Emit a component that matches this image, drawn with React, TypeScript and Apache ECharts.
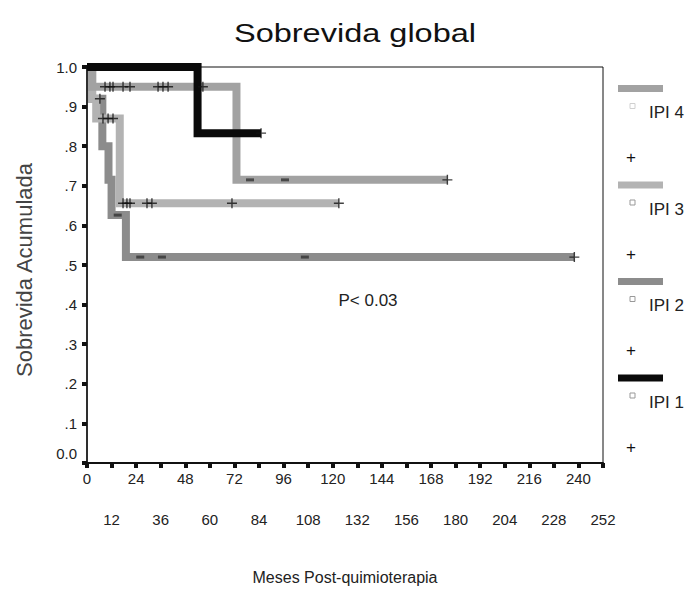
import React, { useEffect, useRef } from "react";
import * as echarts from "echarts";

// ---- data ----
const seriesNames = ["IPI 4", "IPI 3", "IPI 2", "IPI 1"];
const seriesColors = ["#a2a2a2", "#b3b3b3", "#8c8c8c", "#0a0a0a"];

// Kaplan-Meier steps: [month of event, survival after event]
const ipi4Steps = [[0, 1], [2.5, 0.95], [73, 0.715], [176, 0.715]];
const ipi3Steps = [[0, 1], [2.5, 0.92], [4.5, 0.87], [16, 0.656], [123, 0.656]];
const ipi2Steps = [[0, 1], [2.5, 0.92], [7.5, 0.8], [10.5, 0.715], [12, 0.626], [19, 0.52], [238, 0.52]];
const ipi1Steps = [[0, 1], [54, 0.833], [85, 0.833]];

// censored observations ("+" marks and dash marks)
const ipi4Plus = [[8.8, 0.95], [11.2, 0.95], [12.7, 0.95], [17.6, 0.95], [21, 0.95], [34.7, 0.95], [37.1, 0.95], [39.6, 0.95], [56.6, 0.95], [176, 0.715]];
const ipi4Dash = [[79.6, 0.715], [96.7, 0.715]];
const ipi3Plus = [[7.8, 0.87], [10.3, 0.87], [12.7, 0.87], [17.6, 0.656], [19.5, 0.656], [21, 0.656], [29.3, 0.656], [31.7, 0.656], [70.8, 0.656], [123, 0.656]];
const ipi2Plus = [[6.3, 0.92], [238, 0.52]];
const ipi2Dash = [[15, 0.626], [26, 0.52], [36.6, 0.52], [106.4, 0.52]];
const ipi1Plus = [[85, 0.833]];

const xMin = 0;
const xMax = 252;
const xStep = 12;
const yMin = 0;
const yMax = 1;
const yStep = 0.1;

const titleText = "Sobrevida global";
const yTitle = "Sobrevida Acumulada";
const xTitle = "Meses Post-quimioterapia";
const pText = "P< 0.03";

const FONT = "'Liberation Sans', Arial, Helvetica, sans-serif";
const PLUS = "path://M5,0L5,10M0,5L10,5";

export default function App() {
  const ref = useRef<HTMLDivElement>(null);

  useEffect(() => {
    if (!ref.current) return;
    const chart = echarts.init(ref.current, undefined, { renderer: "svg" });

    const steps = [ipi4Steps, ipi3Steps, ipi2Steps, ipi1Steps];
    const drawOrder = [2, 1, 0, 3];

    const lineSeries = drawOrder.map((i) => ({
      type: "line",
      name: seriesNames[i],
      data: steps[i],
      step: "end",
      symbol: "none",
      silent: true,
      lineStyle: { color: seriesColors[i], width: 8, cap: "butt", join: "miter" },
      z: 2,
    }));

    const plusSeries = [ipi4Plus, ipi3Plus, ipi2Plus, ipi1Plus].map((d) => ({
      type: "scatter",
      data: d,
      symbol: PLUS,
      symbolSize: 10,
      silent: true,
      itemStyle: { color: "rgba(0,0,0,0)", borderColor: "#111", borderWidth: 1.4 },
      z: 5,
    }));

    const dashSeries = [ipi4Dash, ipi2Dash].map((d) => ({
      type: "scatter",
      data: d,
      symbol: "rect",
      symbolSize: [8, 3],
      silent: true,
      itemStyle: { color: "#333" },
      z: 5,
    }));

    // legend drawn as graphics, laid out like the original SPSS legend
    const legendGraphics: any[] = [];
    seriesNames.forEach((name, i) => {
      const y0 = 88.5 + i * 96.5;
      legendGraphics.push({
        type: "rect",
        shape: { x: 618, y: y0 - 3.5, width: 45, height: 7 },
        style: { fill: seriesColors[i] },
      });
      legendGraphics.push({
        type: "rect",
        shape: { x: 630, y: y0 + 15, width: 5, height: 5 },
        style: { fill: "none", stroke: i === 0 ? "#d0d0d0" : "#999", lineWidth: 1 },
      });
      legendGraphics.push({
        type: "text",
        x: 649,
        y: y0 + 24,
        style: { text: name, font: `17px ${FONT}`, fill: "#222", textVerticalAlign: "middle", textAlign: "left" },
      });
      legendGraphics.push({
        type: "text",
        x: 631,
        y: y0 + 69,
        style: { text: "+", font: `17px ${FONT}`, fill: "#111", textVerticalAlign: "middle", textAlign: "center" },
      });
    });

    const gridBox = { left: 87, top: 67, width: 516, height: 396 };

    const option: any = {
      animation: false,
      backgroundColor: "#ffffff",
      textStyle: { fontFamily: FONT },
      grid: [
        { ...gridBox, show: true, borderColor: "#111", borderWidth: 1, backgroundColor: "transparent" },
        { ...gridBox, show: false },
      ],
      xAxis: [
        {
          type: "value",
          gridIndex: 0,
          min: xMin,
          max: xMax,
          interval: xStep,
          name: xTitle,
          nameLocation: "middle",
          nameGap: 106,
          nameTextStyle: { fontSize: 16, color: "#222", fontFamily: FONT },
          axisLine: { show: true, onZero: false, lineStyle: { color: "#111", width: 2 } },
          axisTick: { show: true, length: 5, lineStyle: { color: "#111", width: 4 } },
          splitLine: { show: false },
          axisLabel: {
            color: "#222",
            fontSize: 15,
            margin: 8,
            formatter: (v: number) => (v % 24 === 0 ? String(v) : ""),
          },
        },
        {
          type: "value",
          gridIndex: 1,
          position: "bottom",
          min: xMin,
          max: xMax,
          interval: xStep,
          axisLine: { show: false, onZero: false },
          axisTick: { show: false },
          splitLine: { show: false },
          axisLabel: {
            color: "#222",
            fontSize: 15,
            margin: 49,
            formatter: (v: number) => (v % 24 === 12 ? String(v) : ""),
          },
        },
      ],
      yAxis: [
        {
          type: "value",
          gridIndex: 0,
          min: yMin,
          max: yMax,
          interval: yStep,
          axisLine: { show: true, lineStyle: { color: "#111", width: 1.5 } },
          axisTick: { show: true, length: 5, lineStyle: { color: "#111", width: 4 } },
          splitLine: { show: false },
          axisLabel: {
            color: "#222",
            fontSize: 15,
            margin: 10,
            formatter: (v: number) => {
              const k = Math.round(v * 10);
              if (k === 0) return "{z|0.0}";
              if (k === 10) return "1.0";
              return "." + k;
            },
            rich: { z: { fontSize: 15, color: "#222", padding: [0, 0, 20, 0] } },
          },
        },
        { type: "value", gridIndex: 1, min: yMin, max: yMax, show: false },
      ],
      graphic: [
        {
          type: "text",
          x: 355,
          y: 33,
          scaleX: 1.25,
          style: { text: titleText, font: `26px ${FONT}`, fill: "#111", textAlign: "center", textVerticalAlign: "middle" },
        },
        {
          type: "text",
          x: 24,
          y: 270,
          rotation: Math.PI / 2,
          style: { text: yTitle, font: `22px ${FONT}`, fill: "#444", textAlign: "center", textVerticalAlign: "middle" },
        },
        {
          type: "text",
          x: 368,
          y: 300,
          style: { text: pText, font: `17px ${FONT}`, fill: "#222", textAlign: "center", textVerticalAlign: "middle" },
        },
        ...legendGraphics,
      ],
      series: [...lineSeries, ...dashSeries, ...plusSeries],
    };

    chart.setOption(option);
    return () => chart.dispose();
  }, []);

  return (
    <div
      ref={ref}
      style={{ position: "absolute", left: 0, top: 0, width: 691, height: 590, background: "#fff" }}
    />
  );
}
